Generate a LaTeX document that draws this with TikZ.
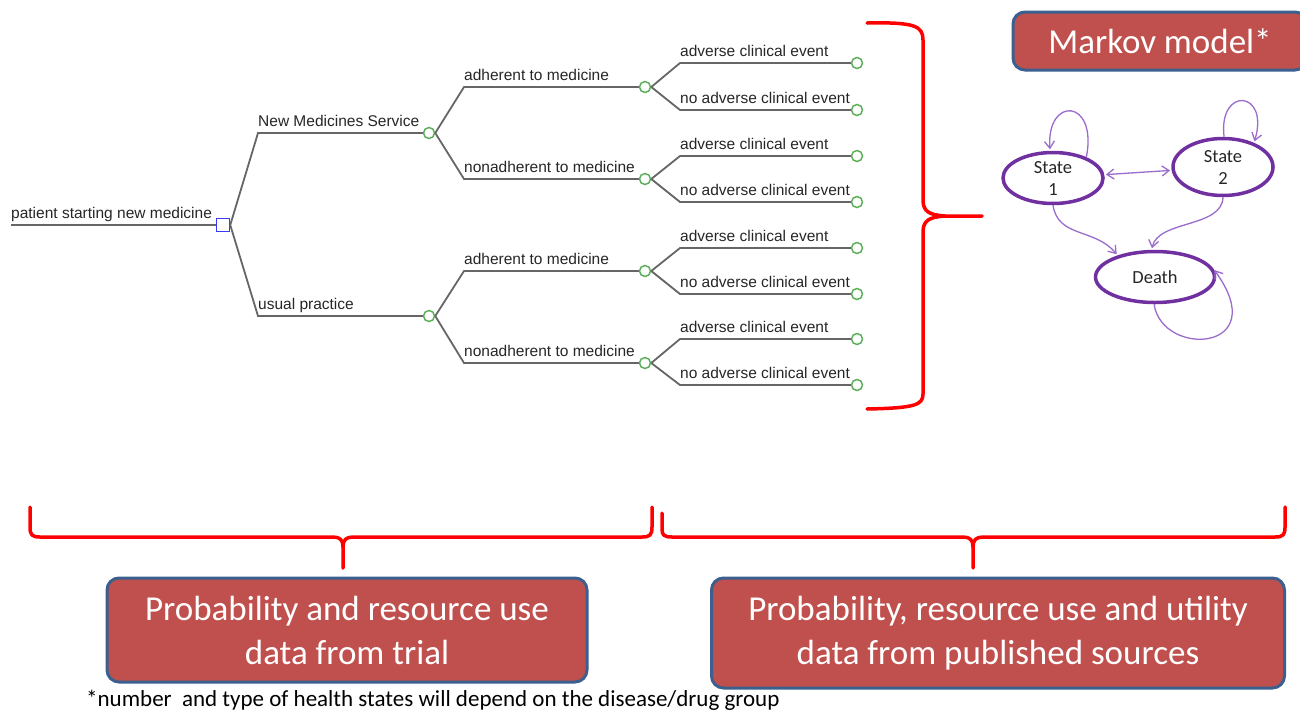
\documentclass[tikz,border=0pt]{standalone}
\usepackage{fontspec}
\setmainfont{Carlito}
\newfontfamily\treefont{Liberation Sans}
\usetikzlibrary{shapes.geometric,arrows.meta}

\definecolor{treegray}{HTML}{666666}
\definecolor{chancegreen}{HTML}{5DB05A}
\definecolor{decblue}{HTML}{3A3AF5}
\definecolor{boxred}{HTML}{C0504D}
\definecolor{boxblue}{HTML}{3B5F8E}
\definecolor{statepurple}{HTML}{7030A0}
\definecolor{transpurple}{HTML}{9A6CCB}

\tikzset{
  branch/.style={draw=treegray, line width=1.8pt},
  chance/.style={circle, draw=chancegreen, line width=1.5pt, fill=white, inner sep=0pt, minimum size=11pt},
  decision/.style={rectangle, draw=decblue, line width=1.5pt, fill=white, inner sep=0pt, minimum size=13pt},
  lbl/.style={font=\treefont\fontsize{15.5}{18}\selectfont, text=black!85, anchor=base west, inner sep=0pt, yshift=7pt},
  state/.style={ellipse, draw=statepurple, line width=3.5pt, inner sep=0pt, align=center, text=black!85, font=\fontsize{18.5}{22}\selectfont},
  trans/.style={draw=transpurple, line width=1.3pt, shorten >=1.5pt, -{Straight Barb[length=7pt,width=10pt]}},
  bracket/.style={draw=red, line width=3.5pt, line cap=round, line join=round},
  databox/.style={rectangle, rounded corners=12pt, draw=boxblue, line width=3pt, fill=boxred, text=white, align=center, inner sep=0pt, font=\fontsize{35}{44}\selectfont}
}

\begin{document}
\begin{tikzpicture}[x=1pt,y=-1pt]
        \useasboundingbox (0,0) rectangle (1300,713);
        \clip (0,0) rectangle (1300,713);

        % Decision and chance nodes of the tree
        \coordinate (start) at (11,225);
        \node[decision] (sq) at (223,225) {};
        \node[chance] (nms) at (429,133) {};
        \node[chance] (usual) at (429,316) {};
        \node[chance] (adh1) at (645,87) {};
        \node[chance] (non1) at (645,179) {};
        \node[chance] (adh2) at (645,271) {};
        \node[chance] (non2) at (645,363) {};

        % Terminal nodes
        \node[chance] (t1) at (857,63) {};
        \node[chance] (t2) at (857,110) {};
        \node[chance] (t3) at (857,156) {};
        \node[chance] (t4) at (857,202) {};
        \node[chance] (t5) at (857,248) {};
        \node[chance] (t6) at (857,294) {};
        \node[chance] (t7) at (857,339) {};
        \node[chance] (t8) at (857,385) {};

        % Corners of the branches
        \coordinate (k1) at (258,133);
        \coordinate (k2) at (258,316);
        \coordinate (a1) at (464,87);
        \coordinate (a2) at (464,179);
        \coordinate (a3) at (464,271);
        \coordinate (a4) at (464,363);
        \coordinate (e1) at (680,63);
        \coordinate (e2) at (680,110);
        \coordinate (e3) at (680,156);
        \coordinate (e4) at (680,202);
        \coordinate (e5) at (680,248);
        \coordinate (e6) at (680,294);
        \coordinate (e7) at (680,339);
        \coordinate (e8) at (680,385);

        % Draw the branches
        \draw[branch] (start) -- (sq.west);
        \draw[branch] (sq.east) -- (k1) -- (nms.west);
        \draw[branch] (sq.east) -- (k2) -- (usual.west);
        \draw[branch] (nms.east) -- (a1) -- (adh1.west);
        \draw[branch] (nms.east) -- (a2) -- (non1.west);
        \draw[branch] (usual.east) -- (a3) -- (adh2.west);
        \draw[branch] (usual.east) -- (a4) -- (non2.west);
        \draw[branch] (adh1.east) -- (e1) -- (t1.west);
        \draw[branch] (adh1.east) -- (e2) -- (t2.west);
        \draw[branch] (non1.east) -- (e3) -- (t3.west);
        \draw[branch] (non1.east) -- (e4) -- (t4.west);
        \draw[branch] (adh2.east) -- (e5) -- (t5.west);
        \draw[branch] (adh2.east) -- (e6) -- (t6.west);
        \draw[branch] (non2.east) -- (e7) -- (t7.west);
        \draw[branch] (non2.east) -- (e8) -- (t8.west);

        % Label the branches
        \node[lbl] at (start) {patient starting new medicine};
        \node[lbl] at (k1) {New Medicines Service};
        \node[lbl] at (k2) {usual practice};
        \node[lbl] at (a1) {adherent to medicine};
        \node[lbl] at (a2) {nonadherent to medicine};
        \node[lbl] at (a3) {adherent to medicine};
        \node[lbl] at (a4) {nonadherent to medicine};
        \node[lbl] at (e1) {adverse clinical event};
        \node[lbl] at (e2) {no adverse clinical event};
        \node[lbl] at (e3) {adverse clinical event};
        \node[lbl] at (e4) {no adverse clinical event};
        \node[lbl] at (e5) {adverse clinical event};
        \node[lbl] at (e6) {no adverse clinical event};
        \node[lbl] at (e7) {adverse clinical event};
        \node[lbl] at (e8) {no adverse clinical event};

        % Right bracket round the tree ends
        \draw[bracket] (867,23) .. controls (915,22) and (923,26) .. (923,40) -- (923,200)
              .. controls (923,212) and (930,215) .. (945,216) -- (982,216);
        \draw[bracket] (945,216) .. controls (930,217) and (923,220) .. (923,232) -- (923,394)
              .. controls (923,405) and (915,408) .. (867,409);

        % Markov model
        \node[databox, minimum width=294pt, minimum height=58pt] (markov) at (1160,41) {Markov model*};
        \node[state, minimum width=100pt, minimum height=51pt] (s1) at (1053,178) {State\\1};
        \node[state, minimum width=100pt, minimum height=57pt] (s2) at (1223,167) {State\\2};
        \node[state, minimum width=119pt, minimum height=51pt] (death) at (1155,277) {Death};

        \draw[trans] (s1.32) .. controls (1098,98) and (1046,96) .. (s1.96);
        \draw[trans] (s2.88) .. controls (1218,86) and (1270,90) .. (s2.38);
        \draw[trans] (death.268) .. controls (1162,358) and (1274,352) .. (death.8);
        \draw[trans, {Straight Barb[length=7pt,width=10pt]}-{Straight Barb[length=7pt,width=10pt]}, shorten <=1.5pt] (s1) -- (s2);
        \draw[trans] (s1.south) .. controls (1058,238) and (1095,228) .. (death.150);
        \draw[trans] (s2.south) .. controls (1222,228) and (1158,220) .. (death.97);

        % Brackets under the tree and the Markov model
        \draw[bracket] (30,507) -- (30,527) .. controls (30,535) and (32,537) .. (40,537) -- (333,537)
              .. controls (340,537) and (343,540) .. (343,547) -- (343,568);
        \draw[bracket] (343,547) .. controls (343,540) and (346,537) .. (353,537) -- (642,537)
              .. controls (650,537) and (652,535) .. (652,527) -- (652,507);
        \draw[bracket] (662,513) -- (662,529) .. controls (662,535) and (664,537) .. (672,537) -- (963,537)
              .. controls (970,537) and (973,540) .. (973,547) -- (973,568);
        \draw[bracket] (973,547) .. controls (973,540) and (976,537) .. (983,537) -- (1275,537)
              .. controls (1283,537) and (1285,535) .. (1285,527) -- (1285,507);

        % Data sources
        \node[databox, minimum width=480pt, minimum height=104pt] (trial) at (347,630) {Probability and resource use\\data from trial};
        \node[databox, minimum width=573pt, minimum height=110pt] (published) at (998,633) {Probability, resource use and utility\\data from published sources};

        % Footnote
        \node[anchor=base west, inner sep=0pt, font=\fontsize{23}{28}\selectfont] (note) at (86,706) {*number\ \ and type of health states will depend on the disease/drug group};
\end{tikzpicture}
\end{document}
